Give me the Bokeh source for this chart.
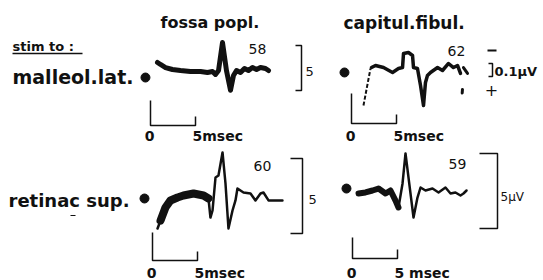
from bokeh.plotting import figure
from bokeh.models import Range1d
from bokeh.embed import file_html
from bokeh.resources import INLINE
from bokeh.core.properties import value
import numpy as np

# ---------------- data (time in ms, amplitude in µV-units) ----------------
tl_t = [0.78, 1.11, 1.67, 2.44, 3.33, 4.44, 5.56, 6.33, 6.89, 7.22, 7.56, 8.0, 8.44, 8.89,
        9.22, 9.56, 10.0, 10.44, 10.89, 11.33, 11.78, 12.22, 12.78, 13.11]
tl_v = [0.89, 0.67, 0.33, 0.11, 0.0, -0.11, -0.11, -0.22, -0.11, -0.44, 0.0, 3.11, 0.0, -2.2,
        -0.56, 0.0, -0.22, 0.22, 0.0, 0.33, 0.11, 0.33, 0.22, 0.0]

tr_t = [2.22, 2.67, 3.56, 4.56, 5.22, 5.67, 5.78, 6.33, 6.78, 6.89, 7.33, 7.67, 8.0, 8.22,
        8.44, 8.78, 9.56, 10.11, 10.78, 11.33, 11.78, 12.11]
tr_v = [0.33, 0.56, 0.33, -0.22, 0.22, 0.33, 1.89, 2.0, 1.67, 0.33, 0.22, -1.67, -3.89, -1.33,
        -0.56, -0.22, 0.33, 0.0, 0.78, 0.33, 0.56, -0.33]
tr_rise_t = [1.33, 2.11]
tr_rise_v = [-3.89, 0.22]
tr_tail_t = [12.44, 12.89, np.nan, 12.33, 12.3]
tr_tail_v = [0.33, -0.33, np.nan, -2.1, -2.5]

bl_t = [0.56, 0.89, 1.44, 2.0, 2.78, 3.44, 4.56, 5.67, 6.22, 6.44, 6.67, 7.0, 7.33, 7.78,
        8.11, 8.44, 8.89, 9.22, 9.44, 10.11, 10.89, 11.44, 12.0, 12.33, 12.89, 13.44, 14.44]
bl_v = [-2.0, -1.47, -0.6, -0.13, 0.07, 0.2, 0.33, 0.2, 0.0, -1.27, -0.8, 1.4, 1.53, 3.07,
        1.0, -2.0, -0.8, -0.13, 0.67, 0.4, 0.33, -0.13, 0.33, 0.4, -0.13, -0.13, -0.13]

br_t = [0.67, 1.44, 2.22, 2.89, 3.67, 4.22, 4.78, 5.11, 5.56, 5.89, 6.22, 6.78, 7.22, 7.56,
        8.11, 8.89, 9.56, 10.33, 10.89, 11.44, 12.0, 12.33, 12.67]
br_v = [-0.2, -0.13, 0.0, 0.13, -0.2, 0.0, -0.67, -1.13, 0.47, 2.47, 0.87, -1.8, -0.47, 0.2,
        0.0, 0.13, -0.13, 0.2, -0.2, -0.13, -0.33, -0.2, 0.0]

stim_t = [-0.56, -0.78, -0.89, -0.67]
stim_v = [-0.78, -0.22, 0.0, 0.13]

latencies = ["58", "62", "60", "59"]
columns = ["fossa popl.", "capitul.fibul."]
rows = ["malleol.lat.", "retinac sup."]
scale_ms = 5

# ---------------- layout ----------------
W, H = 543, 280
panels = {  # x of t=0, baseline y, px per ms, px per unit
    "TL": (150, 70, 9, 9),
    "TR": (351, 70, 9, 9),
    "BL": (152, 198, 9, 15),
    "BR": (352, 190, 9, 15),
}


def px(panel, t, v):
    x0, y0, sx, sy = panels[panel]
    t = np.asarray(t, dtype=float)
    v = np.asarray(v, dtype=float)
    return x0 + t * sx, y0 - v * sy


p = figure(width=W, height=H, output_backend="svg", toolbar_location=None,
           x_range=Range1d(0, W), y_range=Range1d(H, 0),
           min_border=0)
p.xaxis.visible = False
p.yaxis.visible = False
p.xgrid.visible = False
p.ygrid.visible = False
p.outline_line_color = None
p.background_fill_color = "white"
p.border_fill_color = "white"

INK = "#111111"
FONT = value("DejaVu Sans")


def txt(xx, base, s, size, bold=False, align="left"):
    # Bokeh puts the bottom of the line box on y; lift it so y is the glyph baseline
    p.text([xx], [base - 0.3 * size], text=[s], text_font=FONT,
           text_font_style="bold" if bold else "normal",
           text_font_size=f"{size}px", text_align=align,
           text_baseline="alphabetic", text_color=INK)


# traces
x, y = px("TL", tl_t, tl_v)
p.line(x, y, line_color=INK, line_width=5, line_join="round", line_cap="round")

x, y = px("TR", tr_t, tr_v)
p.line(x, y, line_color=INK, line_width=3.5, line_join="round", line_cap="round")
x, y = px("TR", tr_rise_t, tr_rise_v)
p.line(x, y, line_color=INK, line_width=2, line_dash="4 2")
x, y = px("TR", tr_tail_t, tr_tail_v)
p.line(x, y, line_color=INK, line_width=3, line_cap="round")

x, y = px("BL", bl_t, bl_v)
p.line(x, y, line_color=INK, line_width=2.5, line_join="round", line_cap="round")
p.line(x[1:9], y[1:9], line_color=INK, line_width=8, line_join="round", line_cap="round")

x, y = px("BR", br_t, br_v)
p.line(x, y, line_color=INK, line_width=2.5, line_join="round", line_cap="round")
p.line(x[0:8], y[0:8], line_color=INK, line_width=6, line_join="round", line_cap="round")

# stimulus dots
for key, t, v in zip(["TL", "TR", "BL", "BR"], stim_t, stim_v):
    sx_, sy_ = px(key, [t], [v])
    p.scatter(sx_, sy_, size=9, color=INK)

# time scale bars
bars = {"TL": (100, 125), "TR": (93, 123), "BL": (232, 260), "BR": (237, 258)}
for key, (ytop, ybot) in bars.items():
    x0, _, sx, _ = panels[key]
    x5 = x0 + scale_ms * sx
    p.line([x0, x0, x5, x5], [ytop, ybot, ybot, ybot - 9], line_color=INK, line_width=1.5)

# scale labels
lab_y = {"TL": 140, "TR": 140, "BL": 277, "BR": 277}
for key, yy in lab_y.items():
    x0, _, sx, _ = panels[key]
    txt(x0 - 1, yy, "0", 14, bold=True, align="center")
    lbl = "5 msec" if key == "BR" else "5msec"
    txt(x0 + scale_ms * sx - 3, yy, lbl, 14, bold=True)

# column headers
txt(160, 27, columns[0], 16, bold=True)
txt(343, 28, columns[1], 17, bold=True)

# row labels
txt(12, 50, "stim to :", 13, bold=True)
p.line([12, 82], [53, 53], line_color=INK, line_width=1.3)
txt(12, 82, rows[0], 19, bold=True)
txt(8, 205, rows[1], 18, bold=True)
p.line([70, 75], [215, 215], line_color=INK, line_width=1.2)

# latency numbers
for (xx, yy), s in zip([(248, 53), (447, 55), (253, 170), (448, 168)], latencies):
    txt(xx, yy, s, 14)


# amplitude brackets
def bracket(xr, ytop, ybot, wid):
    p.line([xr - wid, xr, xr, xr - wid], [ytop, ytop, ybot, ybot], line_color=INK, line_width=1.5)


bracket(301, 45, 90, 6)
txt(305, 75, "5", 13)
bracket(302, 158, 233, 12)
txt(308, 203, "5", 13)
bracket(497, 153, 228, 18)
txt(500, 200, "5µV", 12)

p.line([487, 496], [50, 50], line_color=INK, line_width=2)
bracket(492, 63, 76, 4)
txt(494, 75, "0.1µV", 13, bold=True)
p.text([491], [89], text=["+"], text_font=FONT, text_font_size="16px",
       text_align="center", text_baseline="middle", text_color=INK)

open("out.html", "w").write(file_html(p, INLINE))
